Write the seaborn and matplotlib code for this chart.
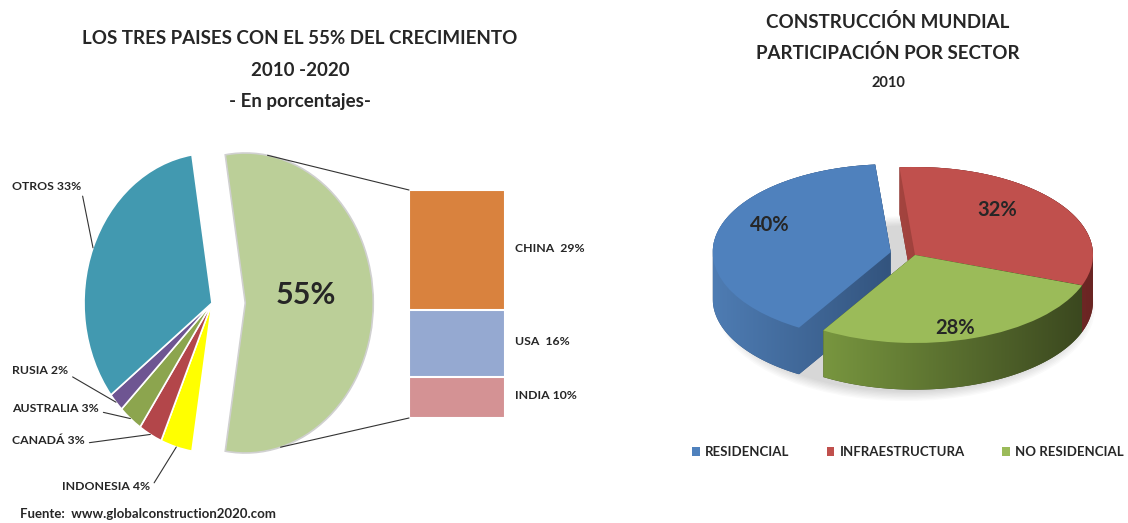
import numpy as np
import pandas as pd
import matplotlib
matplotlib.use("Agg")
import matplotlib.pyplot as plt
import seaborn as sns
from matplotlib.patches import ConnectionPatch, Patch, Polygon, Ellipse
from matplotlib.colors import to_rgb

sns.set_theme(style="white")
plt.rcParams['font.family'] = ['Lato', 'DejaVu Sans']
plt.rcParams['font.weight'] = 'bold'

# left pie: the three countries are grouped in the big slice
pie_labels = ['55%', 'INDONESIA 4%', 'CANADÁ 3%', 'AUSTRALIA 3%', 'RUSIA 2%', 'OTROS 33%']
pie_values = [55, 4, 3, 3, 2, 33]
pie_colors = ['#BBCF98', '#FFFF00', '#B3464A', '#8CA54E', '#6E5592', '#4299B0']

# bar of the 55%
bar_countries = ['CHINA', 'USA', 'INDIA']
bar_values = [29, 16, 10]
bar_colors = ['#D9823E', '#95A9D1', '#D49294']

# right 3d pie
sector_labels = ['RESIDENCIAL', 'INFRAESTRUCTURA', 'NO RESIDENCIAL']
sector_values = [40, 32, 28]
sector_top = ['#4F81BD', '#C0504D', '#9BBB59']
side_light = ['#4E7CB3', '#A4443F', '#78963F']
side_dark = ['#33547E', '#6A2523', '#3B481F']

W, H = 1128, 523
fig = plt.figure(figsize=(W / 100, H / 100), dpi=100)


def px_axes(x0, y0, x1, y1):
    return fig.add_axes([x0 / W, 1 - y1 / H, (x1 - x0) / W, (y1 - y0) / H])


def ftext(x, y, s, **kw):
    fig.text(x / W, 1 - y / H, s, **kw)


def hull(pts):
    pts = sorted(map(tuple, pts))
    def cross(o, a, b):
        return (a[0] - o[0]) * (b[1] - o[1]) - (a[1] - o[1]) * (b[0] - o[0])
    lower, upper = [], []
    for p in pts:
        while len(lower) >= 2 and cross(lower[-2], lower[-1], p) <= 0:
            lower.pop()
        lower.append(p)
    for p in reversed(pts):
        while len(upper) >= 2 and cross(upper[-2], upper[-1], p) <= 0:
            upper.pop()
        upper.append(p)
    return np.array(lower[:-1] + upper[:-1])


# ---------- left pie ----------
axp = px_axes(0, 0, 560, H)
wedges, _ = axp.pie(pie_values, colors=pie_colors, startangle=99, counterclock=False,
                    explode=[0.26, 0, 0, 0, 0, 0],
                    wedgeprops=dict(edgecolor='white', linewidth=1.2))
wedges[0].set_edgecolor('#d0d0d0')
axp.set_aspect('auto')
cx, cy, rx, ry = 212, 303, 128, 150
axp.set_xlim((0 - cx) / rx, (560 - cx) / rx)
axp.set_ylim((cy - H) / ry, cy / ry)
axp.axis('off')

c0 = wedges[0].center
axp.text(c0[0] + 0.47, c0[1] + 0.05, pie_labels[0], fontsize=22, ha='center', va='center')

# labels with leader lines for the small slices
label_pos = {1: (62, 486), 2: (12, 440), 3: (12, 408), 4: (12, 371), 5: (12, 186)}
for i, (tx, ty) in label_pos.items():
    w = wedges[i]
    mid = np.deg2rad((w.theta1 + w.theta2) / 2)
    xy = (w.center[0] + np.cos(mid), w.center[1] + np.sin(mid))
    axp.annotate(pie_labels[i], xy=xy, xytext=((tx - cx) / rx, (cy - ty) / ry),
                 fontsize=8.8, ha='left', va='center',
                 arrowprops=dict(arrowstyle='-', color='#333333', lw=0.8,
                                 relpos=(1, 0.2), shrinkA=1, shrinkB=0))

# ---------- bar of pie ----------
axb = px_axes(409, 190, 505, 418)
cum = np.cumsum(bar_values[::-1])[::-1]
for v, c in zip(cum, bar_colors):
    sns.barplot(x=[0], y=[v], color=c, saturation=1, width=1, ax=axb,
                edgecolor='white', linewidth=1.5)
axb.set_xlim(-0.5, 0.5)
axb.set_ylim(0, sum(bar_values))
axb.axis('off')
for name, v, top in zip(bar_countries, bar_values, cum):
    sep = '  ' if name != 'INDIA' else ' '
    axb.text(0.6, top - v / 2 + 0.5, f'{name}{sep}{v}%', fontsize=8.8, ha='left', va='center',
             clip_on=False)

# connector lines from big slice to bar
th1, th2 = np.deg2rad(80), np.deg2rad(-74)
for th, ycorner in [(th1, sum(bar_values)), (th2, 0)]:
    p = (c0[0] + np.cos(th), c0[1] + np.sin(th))
    con = ConnectionPatch(xyA=p, coordsA=axp.transData, xyB=(-0.5, ycorner), coordsB=axb.transData,
                          color='#333333', lw=0.8)
    fig.add_artist(con)

ftext(300, 38, 'LOS TRES PAISES CON EL 55% DEL CRECIMIENTO', fontsize=13.5, ha='center', va='center')
ftext(300, 70, '2010 -2020', fontsize=13.5, ha='center', va='center')
ftext(300, 102, '- En porcentajes-', fontsize=13.5, ha='center', va='center')
ftext(20, 514, 'Fuente:  www.globalconstruction2020.com', fontsize=9.5, ha='left', va='center')

# ---------- right 3d pie ----------
axr = px_axes(680, 0, W, H)
rcx, rcy, rrx, rry = 915, 255, 178, 88
depth = 0.53
explode_r = [0.14, 0, 0]

# soft shadow under the pie
for k in range(8):
    axr.add_patch(Ellipse((-0.05, -depth - 0.08), 2.12 - k * 0.02, 2.1 - k * 0.03,
                          facecolor='#000000', alpha=0.02, edgecolor='none', zorder=0))

top_wedges, _ = axr.pie(sector_values, colors=sector_top, startangle=239, counterclock=False,
                        explode=explode_r, wedgeprops=dict(linewidth=0))
for i, w in enumerate(top_wedges):
    ang = np.linspace(w.theta1, w.theta2, 120)
    ccx, ccy = w.center
    pts = np.column_stack([ccx + np.cos(np.deg2rad(ang)), ccy + np.sin(np.deg2rad(ang))])
    pts = np.vstack([pts, [[ccx, ccy]]])
    pts = np.vstack([pts, pts - [0, depth]])
    hp = hull(pts)
    side = Polygon(hp, closed=True, facecolor=side_dark[i], edgecolor='none', zorder=2 * i + 1)
    axr.add_patch(side)
    x0, x1 = hp[:, 0].min(), hp[:, 0].max()
    y0, y1 = hp[:, 1].min(), hp[:, 1].max()
    t = np.linspace(0, 1, 200)
    a, b = np.array(to_rgb(side_light[i])), np.array(to_rgb(side_dark[i]))
    grad = (a[None, :] * (1 - t[:, None]) + b[None, :] * t[:, None])[None, :, :]
    im = axr.imshow(grad, extent=(x0, x1, y0, y1), aspect='auto', zorder=2 * i + 1.5,
                    interpolation='bilinear')
    im.set_clip_path(side)
    w.set_zorder(2 * i + 2)

axr.set_aspect('auto')
axr.set_xlim((680 - rcx) / rrx, (W - rcx) / rrx)
axr.set_ylim((rcy - H) / rry, rcy / rry)
axr.axis('off')

pct_pos = [(770, 225), (997, 210), (955, 328)]
for (tx, ty), v in zip(pct_pos, sector_values):
    axr.text((tx - rcx) / rrx, (rcy - ty) / rry, f'{v}%', fontsize=14.5, ha='center', va='center',
             zorder=10)

ftext(888, 22, 'CONSTRUCCIÓN MUNDIAL', fontsize=13.5, ha='center', va='center')
ftext(888, 53, 'PARTICIPACIÓN POR SECTOR', fontsize=13.5, ha='center', va='center')
ftext(888, 83, '2010', fontsize=10.5, ha='center', va='center')

handles = [Patch(facecolor=c, edgecolor='none') for c in sector_top]
fig.legend(handles, sector_labels, loc='center left', bbox_to_anchor=(692 / W, 1 - 452 / H), ncol=3,
           frameon=False, fontsize=9.5, handlelength=0.6, handleheight=0.6, handletextpad=0.4,
           columnspacing=2.8, borderaxespad=0, borderpad=0)

fig.savefig('out.png', dpi=100)
